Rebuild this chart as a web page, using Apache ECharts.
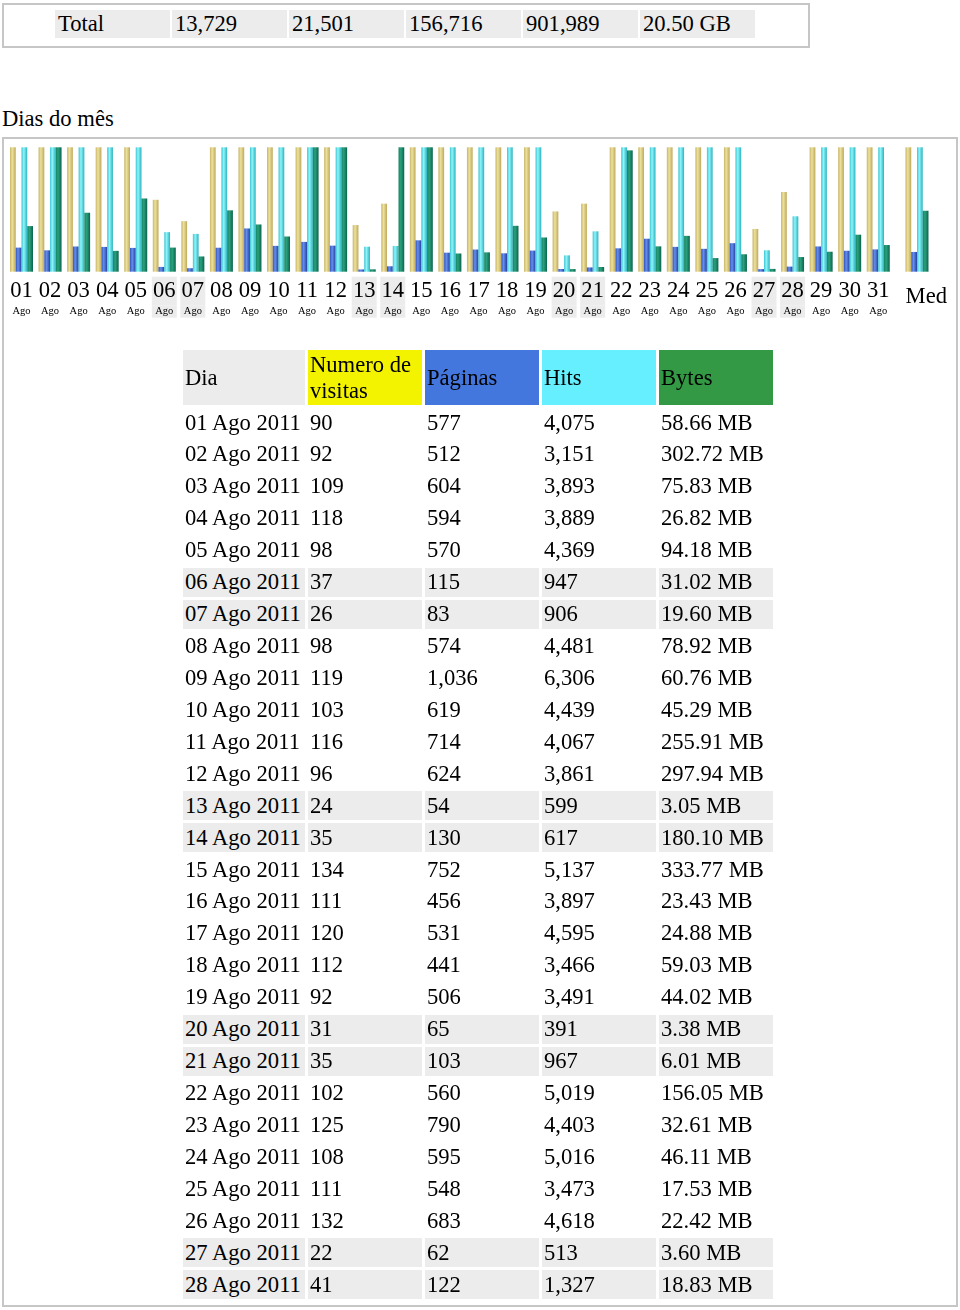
<!DOCTYPE html>
<html>
<head>
<meta charset="utf-8">
<script src="https://cdn.jsdelivr.net/npm/echarts@6/dist/echarts.min.js"></script>
<style>
html,body{margin:0;padding:0;background:#fff;}
body{width:960px;height:1310px;position:relative;overflow:hidden;font-family:"Liberation Serif","Times New Roman",serif;font-size:22.6px;color:#000;}
.abs{position:absolute;}
.box{position:absolute;border:2px solid #c6c6c6;box-sizing:border-box;}
.cell{position:absolute;white-space:nowrap;padding-left:2px;box-sizing:border-box;display:flex;align-items:center;line-height:26px;}
.hcell{white-space:normal;}
</style>
</head>
<body>
<div class="box" style="left:2px;top:3px;width:808px;height:45px;"></div>
<div id="totals"></div>
<div class="abs" style="left:2px;top:105px;line-height:28px;">Dias do mês</div>
<div class="box" style="left:2px;top:137px;width:956px;height:1170px;"></div>
<div id="chart" class="abs" style="left:0;top:140px;width:960px;height:185px;"></div>
<div id="tableWrap" class="abs" style="left:0;top:0;width:960px;height:1310px;"></div>

<script>
// ---------- data ----------
const days = ['01','02','03','04','05','06','07','08','09','10','11','12','13','14','15','16',
              '17','18','19','20','21','22','23','24','25','26','27','28','29','30','31'];
const weekendDays = ['06','07','13','14','20','21','27','28'];
const monthName = 'Ago';
const yearLabel = '2011';
const visits = [90,92,109,118,98,37,26,98,119,103,116,96,24,35,134,111,120,112,92,31,35,102,125,108,111,132,22,41,118,110,105];
const pages  = [577,512,604,594,570,115,83,574,1036,619,714,624,54,130,752,456,531,441,506,65,103,560,790,595,548,683,62,122,605,502,534];
const hits   = [4075,3151,3893,3889,4369,947,906,4481,6306,4439,4067,3861,599,617,5137,3897,4595,3466,3491,391,967,5019,4403,5016,3473,4618,513,1327,4300,4100,4000];
const bytesMB = [58.66,302.72,75.83,26.82,94.18,31.02,19.60,78.92,60.76,45.29,255.91,297.94,3.05,180.10,333.77,23.43,24.88,59.03,44.02,3.38,6.01,156.05,32.61,46.11,17.53,22.42,3.60,18.83,25.7,47.6,34.3];
const avgLabel = 'Med';
const averages = [89, 473, 3371, 78.4];          // visits, pages, hits, MB
const headers = ['Dia', 'Numero de visitas', 'Páginas', 'Hits', 'Bytes'];
const totalsLabel = 'Total';
const totals = [13729, 21501, 156716, 901989];
const totalBytes = '20.50 GB';

// ---------- totals row ----------
(function(){
  const t = document.getElementById('totals');
  const vals = [totalsLabel].concat(totals.map(v => v.toLocaleString('en-US'))).concat([totalBytes]);
  vals.forEach((v, i) => {
    const d = document.createElement('div');
    d.className = 'cell';
    d.style.cssText = `left:${55 + i*117}px;top:10px;width:115px;height:28px;background:#ececec;padding-left:3px;`;
    d.textContent = v;
    t.appendChild(d);
  });
})();

// ---------- table (rows that fit inside the frame) ----------
(function(){
  const w = document.getElementById('tableWrap');
  const colX = [183, 308, 425, 542, 659];
  const colW = [122, 114, 114, 114, 114];
  const hdrBg = ['#ececec', '#f3f300', '#4477dd', '#66f0ff', '#339944'];
  const frameBottom = 1303;
  headers.forEach((h, c) => {
    const d = document.createElement('div');
    d.className = 'cell hcell';
    d.style.cssText = `left:${colX[c]}px;top:350px;width:${colW[c]}px;height:55px;background:${hdrBg[c]};`;
    d.textContent = h;
    w.appendChild(d);
  });
  days.forEach((day, i) => {
    const top = 408 + i*31.93;
    if (top + 29 > frameBottom) return;
    const wk = weekendDays.includes(day);
    const vals = [
      `${day} ${monthName} ${yearLabel}`,
      visits[i].toLocaleString('en-US'),
      pages[i].toLocaleString('en-US'),
      hits[i].toLocaleString('en-US'),
      bytesMB[i].toFixed(2) + ' MB'
    ];
    vals.forEach((v, c) => {
      const d = document.createElement('div');
      d.className = 'cell';
      d.style.cssText = `left:${colX[c]}px;top:${top}px;width:${colW[c]}px;height:29px;` + (wk ? 'background:#ececec;' : '');
      d.textContent = v;
      w.appendChild(d);
    });
  });
})();

// ---------- chart ----------
const chart = echarts.init(document.getElementById('chart'), null, {renderer: 'canvas'});
function grad(l, m, r){
  return new echarts.graphic.LinearGradient(0, 0, 1, 0, [
    {offset: 0, color: l}, {offset: 0.4, color: m}, {offset: 1, color: r}
  ]);
}
const styles = [
  grad('#c8b466', '#ece19c', '#bfa95c'),
  grad('#3054c0', '#658ee9', '#2440a2'),
  grad('#3cc4d0', '#8ef5fa', '#2cb2c0'),
  grad('#168563', '#2aa07c', '#0a634d')
];
const names = ['Numero de visitas', 'Páginas', 'Hits', 'Bytes'];
const dailySeries = [visits, pages, hits, bytesMB];
const axisMax = [64, 2980, 2980, 160];

const F = '"Liberation Serif","Times New Roman",serif';
const gridTop = 7.3, gridH = 124.4;

const yAxes = [];
[0, 1].forEach(g => axisMax.forEach(mx => yAxes.push({
  type: 'value', gridIndex: g, min: 0, max: mx, show: false
})));

const series = [];
dailySeries.forEach((arr, k) => {
  series.push({
    name: names[k], type: 'bar', xAxisIndex: 0, yAxisIndex: k,
    data: arr, barWidth: 5.75, barGap: '0%', clip: true,
    itemStyle: {color: styles[k]}, silent: true
  });
});
averages.forEach((v, k) => {
  series.push({
    name: names[k], type: 'bar', xAxisIndex: 1, yAxisIndex: 4 + k,
    data: [v], barWidth: 5.75, barGap: '0%', clip: true,
    itemStyle: {color: styles[k]}, silent: true
  });
});

chart.setOption({
  animation: false,
  backgroundColor: 'transparent',
  grid: [
    {left: 7.22, top: gridTop, width: 885.3, height: gridH},
    {left: 902.7, top: gridTop, width: 28.56, height: gridH}
  ],
  xAxis: [
    {
      type: 'category', gridIndex: 0, data: days,
      axisLine: {show: false}, axisTick: {show: false},
      axisLabel: {
        interval: 0, margin: 5, color: '#000', fontFamily: F,
        formatter: v => weekendDays.includes(v)
          ? `{dw|${v}}\n{mw|${monthName}}` : `{d|${v}}\n{m|${monthName}}`,
        rich: {
          d:  {fontFamily: F, fontSize: 22.6, color: '#000', width: 25, height: 29, lineHeight: 29, align: 'center'},
          m:  {fontFamily: F, fontSize: 10.5, color: '#000', width: 25, height: 12, lineHeight: 12, align: 'center'},
          dw: {fontFamily: F, fontSize: 22.6, color: '#000', width: 25, height: 29, lineHeight: 29, align: 'center', backgroundColor: '#ececec'},
          mw: {fontFamily: F, fontSize: 10.5, color: '#000', width: 25, height: 12, lineHeight: 12, align: 'center', backgroundColor: '#ececec'}
        }
      }
    },
    {
      type: 'category', gridIndex: 1, data: [avgLabel],
      axisLine: {show: false}, axisTick: {show: false},
      axisLabel: {
        interval: 0, margin: 5, color: '#000', fontFamily: F,
        formatter: v => `{a|${v}}`,
        rich: {a: {fontFamily: F, fontSize: 22.6, color: '#000', width: 60, height: 41, lineHeight: 41, align: 'right'}}
      }
    }
  ],
  yAxis: yAxes,
  series: series
});
</script>
</body>
</html>
